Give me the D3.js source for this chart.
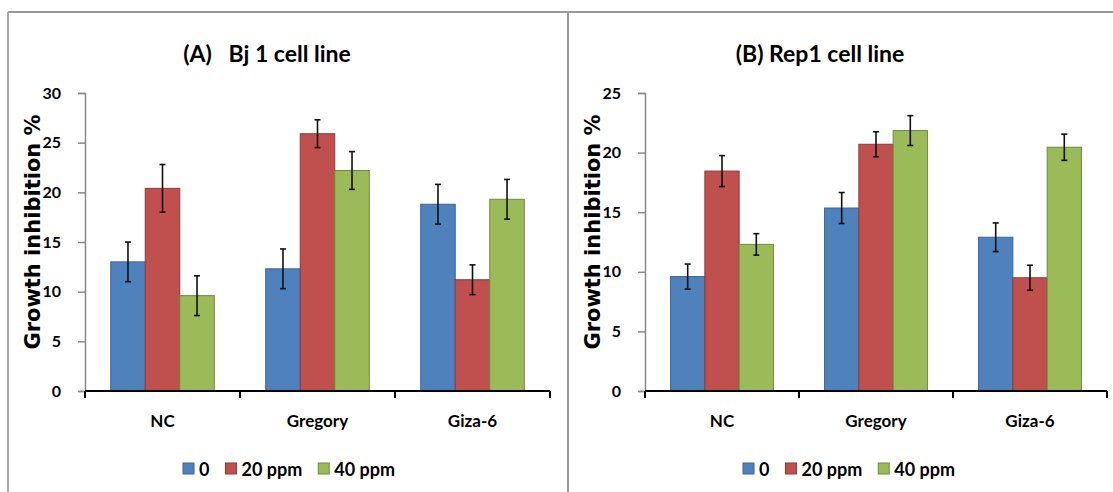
<!DOCTYPE html>
<html>
<head>
<meta charset="utf-8">
<script src="https://cdn.jsdelivr.net/npm/d3@7"></script>
<style>
  body { margin: 0; background: #fff; }
  svg text { fill: #000; }
</style>
</head>
<body>
<svg width="1113" height="492"></svg>
<script>
const categories = ['NC', 'Gregory', 'Giza-6'];
const seriesNames = ['0', '20 ppm', '40 ppm'];
const colors = ['#4F81BD', '#C0504D', '#9BBB59'];
const strokes = ['#3A6598', '#8E3A37', '#71893F'];

// panel A: Bj 1 cell line (rows = series, cols = categories)
const bjValues = [
  [13.0, 12.3, 18.8],
  [20.4, 25.9, 11.2],
  [9.6, 22.2, 19.3]
];
const bjErrors = [
  [2.0, 2.0, 2.0],
  [2.4, 1.4, 1.5],
  [2.0, 1.9, 2.0]
];
const bjTicks = [0, 5, 10, 15, 20, 25, 30];

// panel B: Rep1 cell line
const repValues = [
  [9.6, 15.35, 12.9],
  [18.45, 20.7, 9.5],
  [12.3, 21.85, 20.45]
];
const repErrors = [
  [1.05, 1.3, 1.2],
  [1.3, 1.05, 1.05],
  [0.9, 1.25, 1.1]
];
const repTicks = [0, 5, 10, 15, 20, 25];

const svg = d3.select('svg');

// frame lines
svg.append('line').attr('x1', 8).attr('x2', 1113).attr('y1', 12).attr('y2', 12)
  .attr('stroke', '#999').attr('stroke-width', 2);
svg.append('line').attr('x1', 8).attr('x2', 8).attr('y1', 12).attr('y2', 492)
  .attr('stroke', '#aaa').attr('stroke-width', 2);
svg.append('line').attr('x1', 568).attr('x2', 568).attr('y1', 12).attr('y2', 492)
  .attr('stroke', '#999').attr('stroke-width', 2);

const render = (opt) => {
  const { left, right, top, bottom, ticks, values, errors, title, titleX, labelX, legendX } = opt;
  const g = svg.append('g');

  const x0 = d3.scaleBand().domain(categories).range([left, right]);
  const x1 = d3.scaleBand().domain(seriesNames).range([0, x0.bandwidth()]).paddingOuter(0.745);
  const y = d3.scaleLinear().domain([0, d3.max(ticks)]).range([bottom, top]);

  // y axis
  const yAx = g.append('g')
    .attr('transform', `translate(${left},0)`)
    .call(d3.axisLeft(y).tickValues(ticks).tickSize(7).tickPadding(17));
  yAx.select('.domain').attr('stroke', '#8a8a8a').attr('stroke-width', 1.5);
  yAx.selectAll('.tick line').attr('stroke', '#8a8a8a').attr('stroke-width', 1.5);
  yAx.selectAll('.tick text')
    .style('font-family', 'Lato, sans-serif').style('font-weight', 'bold')
    .style('font-size', '16px').attr('fill', '#000');

  // bars
  seriesNames.forEach((s, i) => {
    g.append('g').selectAll('rect')
      .data(categories)
      .enter()
      .append('rect')
      .attr('x', (c) => x0(c) + x1(s))
      .attr('y', (c, j) => y(values[i][j]))
      .attr('width', x1.bandwidth())
      .attr('height', (c, j) => y(0) - y(values[i][j]))
      .attr('fill', colors[i])
      .attr('stroke', strokes[i])
      .attr('stroke-width', 1);
  });

  // error bars
  seriesNames.forEach((s, i) => {
    const eg = g.append('g').attr('stroke', '#111').attr('stroke-width', 1.6);
    categories.forEach((c, j) => {
      const cx = x0(c) + x1(s) + x1.bandwidth() / 2;
      const hi = y(values[i][j] + errors[i][j]);
      const lo = y(values[i][j] - errors[i][j]);
      eg.append('line').attr('x1', cx).attr('x2', cx).attr('y1', hi).attr('y2', lo);
      eg.append('line').attr('x1', cx - 3).attr('x2', cx + 3).attr('y1', hi).attr('y2', hi);
      eg.append('line').attr('x1', cx - 3).attr('x2', cx + 3).attr('y1', lo).attr('y2', lo);
    });
  });

  // x axis
  const xAx = g.append('g')
    .attr('transform', `translate(0,${bottom})`)
    .call(d3.axisBottom(x0).tickSize(0).tickPadding(24));
  xAx.select('.domain').remove();
  xAx.selectAll('.tick text')
    .style('font-family', 'Lato, sans-serif').style('font-weight', 'bold')
    .style('font-size', '17px').attr('fill', '#000');
  g.append('line').attr('x1', left).attr('x2', right).attr('y1', bottom).attr('y2', bottom)
    .attr('stroke', '#000').attr('stroke-width', 2);
  const bounds = categories.map(c => x0(c)).concat([right]);
  g.selectAll('.xtick').data(bounds).enter().append('line')
    .attr('x1', d => d).attr('x2', d => d)
    .attr('y1', bottom).attr('y2', bottom + 7)
    .attr('stroke', '#000').attr('stroke-width', 2);

  // title
  g.append('text')
    .attr('x', titleX).attr('y', 62)
    .style('text-anchor', 'middle')
    .style('font-family', 'Lato, sans-serif').style('font-weight', 'bold')
    .style('font-size', '23px')
    .attr('xml:space', 'preserve')
    .text(title);

  // y label
  g.append('text')
    .attr('transform', `translate(${labelX},232) rotate(-90)`)
    .style('text-anchor', 'middle')
    .style('font-family', 'DejaVu Sans, sans-serif').style('font-weight', 'bold')
    .style('font-size', '21px')
    .text('Growth inhibition %');

  // legend
  const lg = g.append('g').attr('transform', `translate(${legendX},0)`);
  let cx = 0;
  seriesNames.forEach((s, i) => {
    lg.append('rect').attr('x', cx).attr('y', 463).attr('width', 11).attr('height', 11)
      .attr('fill', colors[i]).attr('stroke', strokes[i]).attr('stroke-width', 1);
    const t = lg.append('text').attr('x', cx + 16).attr('y', 476)
      .style('font-family', 'Lato, sans-serif').style('font-weight', 'bold')
      .style('font-size', '18px').text(s);
    cx += 16 + t.node().getComputedTextLength() + 16;
  });
};

render({
  left: 85, right: 550, top: 93, bottom: 391,
  ticks: bjTicks, values: bjValues, errors: bjErrors,
  title: '(A)   Bj 1 cell line', titleX: 267, labelX: 40, legendX: 183
});

render({
  left: 645, right: 1107, top: 93, bottom: 391,
  ticks: repTicks, values: repValues, errors: repErrors,
  title: '(B) Rep1 cell line', titleX: 820, labelX: 600, legendX: 743
});
</script>
</body>
</html>
